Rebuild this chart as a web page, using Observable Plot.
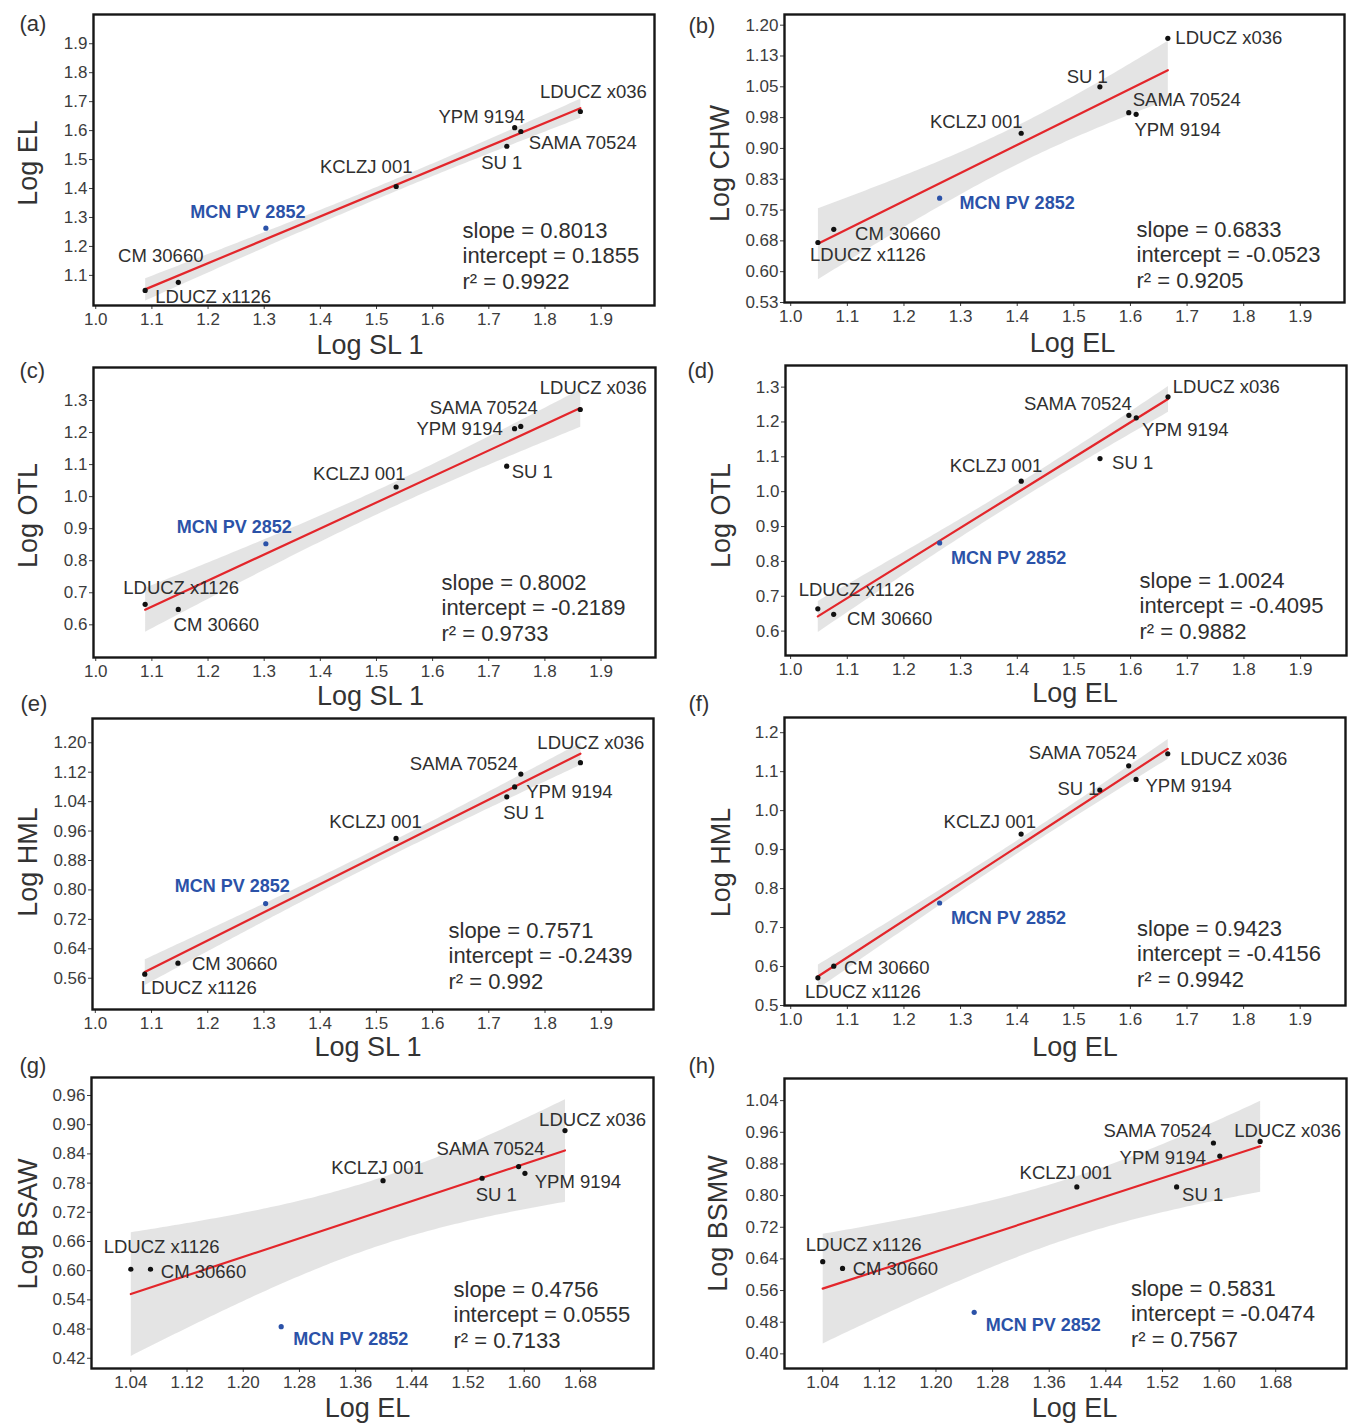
<!DOCTYPE html>
<html>
<head>
<meta charset="utf-8">
<script src="https://cdn.jsdelivr.net/npm/d3@7"></script>
<script src="https://cdn.jsdelivr.net/npm/@observablehq/plot@0.6"></script>
<style>
  html, body { margin: 0; padding: 0; background: #fff; }
  #fig { position: relative; width: 1351px; height: 1424px; background: #fff; font-family: "Liberation Sans", Arial, Helvetica, sans-serif; }
  #fig svg { position: absolute; overflow: visible; }
</style>
</head>
<body>
<div id="fig"></div>
<script>
// ---------------- DATA ----------------
const specimens = ["LDUCZ x1126", "CM 30660", "MCN PV 2852", "KCLZJ 001", "SU 1", "YPM 9194", "SAMA 70524", "LDUCZ x036"];
const focalSpecimen = "MCN PV 2852";

const logSL1  = [1.088, 1.147, 1.303, 1.535, 1.732, 1.746, 1.757, 1.863];
const logEL   = [1.048, 1.076, 1.263, 1.407, 1.546, 1.610, 1.597, 1.666];
const logEL_gh = [1.040, 1.068, 1.254, 1.399, 1.540, 1.601, 1.592, 1.658];
const logCHW  = [0.671, 0.703, 0.779, 0.937, 1.050, 0.983, 0.987, 1.168];
const logOTL  = [0.664, 0.648, 0.853, 1.030, 1.095, 1.212, 1.219, 1.272];
const logHML  = [0.571, 0.601, 0.763, 0.940, 1.053, 1.080, 1.115, 1.146];
const logBSAW = [0.603, 0.603, 0.485, 0.785, 0.790, 0.800, 0.814, 0.888];
const logBSMW = [0.633, 0.616, 0.505, 0.822, 0.822, 0.900, 0.933, 0.937];

const panelIds   = ["(a)", "(b)", "(c)", "(d)", "(e)", "(f)", "(g)", "(h)"];
const xTitles    = ["Log SL 1", "Log EL", "Log SL 1", "Log EL", "Log SL 1", "Log EL", "Log EL", "Log EL"];
const yTitles    = ["Log EL", "Log CHW", "Log OTL", "Log OTL", "Log HML", "Log HML", "Log BSAW", "Log BSMW"];
const slopes     = ["0.8013", "0.6833", "0.8002", "1.0024", "0.7571", "0.9423", "0.4756", "0.5831"];
const intercepts = ["0.1855", "-0.0523", "-0.2189", "-0.4095", "-0.2439", "-0.4156", "0.0555", "-0.0474"];
const r2s        = ["0.9922", "0.9205", "0.9733", "0.9882", "0.992", "0.9942", "0.7133", "0.7567"];

// tick values and tick labels
const xTicks10 = [1.0, 1.1, 1.2, 1.3, 1.4, 1.5, 1.6, 1.7, 1.8, 1.9];
const xTickLabels10 = ["1.0", "1.1", "1.2", "1.3", "1.4", "1.5", "1.6", "1.7", "1.8", "1.9"];
const xTicks08 = [1.04, 1.12, 1.20, 1.28, 1.36, 1.44, 1.52, 1.60, 1.68];
const xTickLabels08 = ["1.04", "1.12", "1.20", "1.28", "1.36", "1.44", "1.52", "1.60", "1.68"];
const yTicksA = [1.1, 1.2, 1.3, 1.4, 1.5, 1.6, 1.7, 1.8, 1.9];
const yTickLabelsA = ["1.1", "1.2", "1.3", "1.4", "1.5", "1.6", "1.7", "1.8", "1.9"];
const yTicksB = [0.525, 0.6, 0.675, 0.75, 0.825, 0.9, 0.975, 1.05, 1.125, 1.2];
const yTickLabelsB = ["0.53", "0.60", "0.68", "0.75", "0.83", "0.90", "0.98", "1.05", "1.13", "1.20"];
const yTicksCD = [0.6, 0.7, 0.8, 0.9, 1.0, 1.1, 1.2, 1.3];
const yTickLabelsCD = ["0.6", "0.7", "0.8", "0.9", "1.0", "1.1", "1.2", "1.3"];
const yTicksE = [0.56, 0.64, 0.72, 0.80, 0.88, 0.96, 1.04, 1.12, 1.20];
const yTickLabelsE = ["0.56", "0.64", "0.72", "0.80", "0.88", "0.96", "1.04", "1.12", "1.20"];
const yTicksF = [0.5, 0.6, 0.7, 0.8, 0.9, 1.0, 1.1, 1.2];
const yTickLabelsF = ["0.5", "0.6", "0.7", "0.8", "0.9", "1.0", "1.1", "1.2"];
const yTicksG = [0.42, 0.48, 0.54, 0.60, 0.66, 0.72, 0.78, 0.84, 0.90, 0.96];
const yTickLabelsG = ["0.42", "0.48", "0.54", "0.60", "0.66", "0.72", "0.78", "0.84", "0.90", "0.96"];
const yTicksH = [0.40, 0.48, 0.56, 0.64, 0.72, 0.80, 0.88, 0.96, 1.04];
const yTickLabelsH = ["0.40", "0.48", "0.56", "0.64", "0.72", "0.80", "0.88", "0.96", "1.04"];

// which series each panel plots
const panelSeries = [
  {x: logSL1,   y: logEL,   xt: xTicks10, xl: xTickLabels10, yt: yTicksA,  yl: yTickLabelsA},
  {x: logEL,    y: logCHW,  xt: xTicks10, xl: xTickLabels10, yt: yTicksB,  yl: yTickLabelsB},
  {x: logSL1,   y: logOTL,  xt: xTicks10, xl: xTickLabels10, yt: yTicksCD, yl: yTickLabelsCD},
  {x: logEL,    y: logOTL,  xt: xTicks10, xl: xTickLabels10, yt: yTicksCD, yl: yTickLabelsCD},
  {x: logSL1,   y: logHML,  xt: xTicks10, xl: xTickLabels10, yt: yTicksE,  yl: yTickLabelsE},
  {x: logEL,    y: logHML,  xt: xTicks10, xl: xTickLabels10, yt: yTicksF,  yl: yTickLabelsF},
  {x: logEL_gh, y: logBSAW, xt: xTicks08, xl: xTickLabels08, yt: yTicksG,  yl: yTickLabelsG},
  {x: logEL_gh, y: logBSMW, xt: xTicks08, xl: xTickLabels08, yt: yTicksH,  yl: yTickLabelsH}
];

// ---------------- LAYOUT (positions / styles) ----------------
// cell: [left, top, width, height]; m: [top, right, bottom, left]
const layout = [
  {cell: [0, 0, 670, 360],     m: [14, 16, 55, 93],  xd: [0.996, 1.995], yd: [0.996, 2.001],
   lab: [[68,7],[-17.5,-26],[-18,-15.6],[-30,-19],[-5,17],[-33,-11],[62,12],[13,-19]],
   st: [-192, -17], xt: [-4, 40], yt: [-65, 3], id: [-74, 9]},
  {cell: [670, 0, 681, 360],   m: [14, 7, 58, 114],  xd: [0.989, 1.978], yd: [0.525, 1.226],
   lab: [[50,13],[64,5],[77.5,5],[-45,-11.6],[-12.7,-9.7],[41.5,15.3],[58,-12.3],[61,0]],
   st: [-208, -15], xt: [8, 41], yt: [-64, 5], id: [-96, 11]},
  {cell: [0, 360, 670, 350],   m: [7, 15, 53, 93],   xd: [0.996, 1.997], yd: [0.498, 1.403],
   lab: [[36,-16],[38,16],[-31.6,-16.6],[-36.8,-13.4],[25.6,6.3],[-55,0],[-37,-18.3],[13,-21]],
   st: [-214, -17], xt: [-4, 39], yt: [-65, 3], id: [-74, 3]},
  {cell: [670, 360, 681, 350], m: [5, 5, 55, 115],   xd: [0.991, 1.981], yd: [0.530, 1.362],
   lab: [[38.8,-18.3],[56,5],[69,15.6],[-25.3,-15],[32.6,4.4],[49,12.3],[-51,-11.7],[58.3,-9.3]],
   st: [-207, -17], xt: [9, 38], yt: [-64, 5], id: [-98, 5]},
  {cell: [0, 710, 670, 352],   m: [8, 17, 53, 92],   xd: [0.995, 1.993], yd: [0.475, 1.266],
   lab: [[54,13.4],[56.7,1],[-33.4,-17.6],[-20.5,-16.7],[17,16.6],[54.8,5.6],[-57,-9.7],[10.4,-20]],
   st: [-205, -21], xt: [-5, 38], yt: [-64, -2], id: [-72, -15]},
  {cell: [670, 710, 681, 352], m: [7, 6, 57, 114],   xd: [0.989, 1.980], yd: [0.5, 1.239],
   lab: [[45,14],[53,2.4],[68.8,15.7],[-31.3,-12.3],[-21.8,-1.3],[52.6,6.7],[-46,-12.3],[66,5.7]],
   st: [-208.5, -19], xt: [10, 42], yt: [-63, 1], id: [-96, -14]},
  {cell: [0, 1062, 670, 362],  m: [15, 17, 56, 91],  xd: [0.984, 1.784], yd: [0.399, 0.997],
   lab: [[30.8,-22.3],[53,2.4],[69.5,12.6],[-5.6,-12.7],[14.2,16.7],[53,8.4],[-28,-17.4],[27.6,-10]],
   st: [-200, -21], xt: [-5, 40], yt: [-63, 1], id: [-72, -12]},
  {cell: [670, 1062, 681, 362], m: [16, 5, 56, 114], xd: [0.986, 1.780], yd: [0.363, 1.096],
   lab: [[41,-16.7],[52.8,0.6],[69,12.6],[-11,-13.4],[26,8.3],[-57,1.7],[-56,-11.7],[27.5,-10]],
   st: [-215.6, -22], xt: [9, 40], yt: [-66, 0], id: [-96, -13]}
];

const RED = "#e3262b";
const BLUE = "#2b52a8";
const TEXT = "#2f2f2f";
const FONT = "'Liberation Sans', Arial, Helvetica, sans-serif";

const fig = document.getElementById("fig");

panelSeries.forEach((ps, k) => {
  const L = layout[k];
  const rows = specimens.map((name, i) => ({name, x: ps.x[i], y: ps.y[i], focal: name === focalSpecimen}));
  const statText = `slope = ${slopes[k]}\nintercept = ${intercepts[k]}\nr\u00B2 = ${r2s[k]}`;
  const [left, top, w, h] = L.cell;

  const marks = [
    Plot.linearRegressionY(rows, {x: "x", y: "y", stroke: RED, strokeWidth: 2.2, fill: "#9c9c9c", fillOpacity: 0.27, ci: 0.95}),
    Plot.frame({stroke: "#161616", strokeWidth: 2.4}),
    Plot.dot(rows.filter(d => !d.focal), {x: "x", y: "y", r: 2.6, fill: "#111", stroke: "none"}),
    Plot.dot(rows.filter(d => d.focal), {x: "x", y: "y", r: 2.6, fill: BLUE, stroke: "none"}),
    ...rows.map((d, i) => Plot.text([d], {
      x: "x", y: "y", text: "name",
      dx: L.lab[i][0], dy: L.lab[i][1],
      textAnchor: "middle", lineAnchor: "middle",
      fontSize: d.focal ? 18 : 18.5,
      fontWeight: d.focal ? "bold" : "normal",
      fill: d.focal ? BLUE : TEXT
    })),
    Plot.text([statText], {text: d => d, frameAnchor: "bottom-right", textAnchor: "start", lineAnchor: "bottom",
      lineHeight: 1.14, dx: L.st[0], dy: L.st[1], fontSize: 22, fill: TEXT}),
    Plot.text([xTitles[k]], {text: d => d, frameAnchor: "bottom", textAnchor: "middle", lineAnchor: "middle",
      dx: L.xt[0], dy: L.xt[1], fontSize: 27, fill: "#333"}),
    Plot.text([yTitles[k]], {text: d => d, frameAnchor: "left", textAnchor: "middle", lineAnchor: "middle", rotate: -90,
      dx: L.yt[0], dy: L.yt[1], fontSize: 27, fill: "#333"}),
    Plot.text([panelIds[k]], {text: d => d, frameAnchor: "top-left", textAnchor: "start", lineAnchor: "middle",
      dx: L.id[0], dy: L.id[1], fontSize: 22, fill: "#333"})
  ];

  const svg = Plot.plot({
    width: w,
    height: h,
    marginTop: L.m[0],
    marginRight: L.m[1],
    marginBottom: L.m[2],
    marginLeft: L.m[3],
    x: {domain: L.xd, ticks: ps.xt, tickFormat: d => ps.xl[ps.xt.indexOf(d)], tickSize: 4, tickPadding: 3, label: null},
    y: {domain: L.yd, ticks: ps.yt, tickFormat: d => ps.yl[ps.yt.indexOf(d)], tickSize: 4, tickPadding: 2, label: null},
    style: {fontFamily: FONT, fontSize: "17px", color: "#3c3c3c", background: "transparent", overflow: "visible"},
    marks
  });
  svg.style.left = left + "px";
  svg.style.top = top + "px";
  fig.appendChild(svg);
});
</script>
</body>
</html>
